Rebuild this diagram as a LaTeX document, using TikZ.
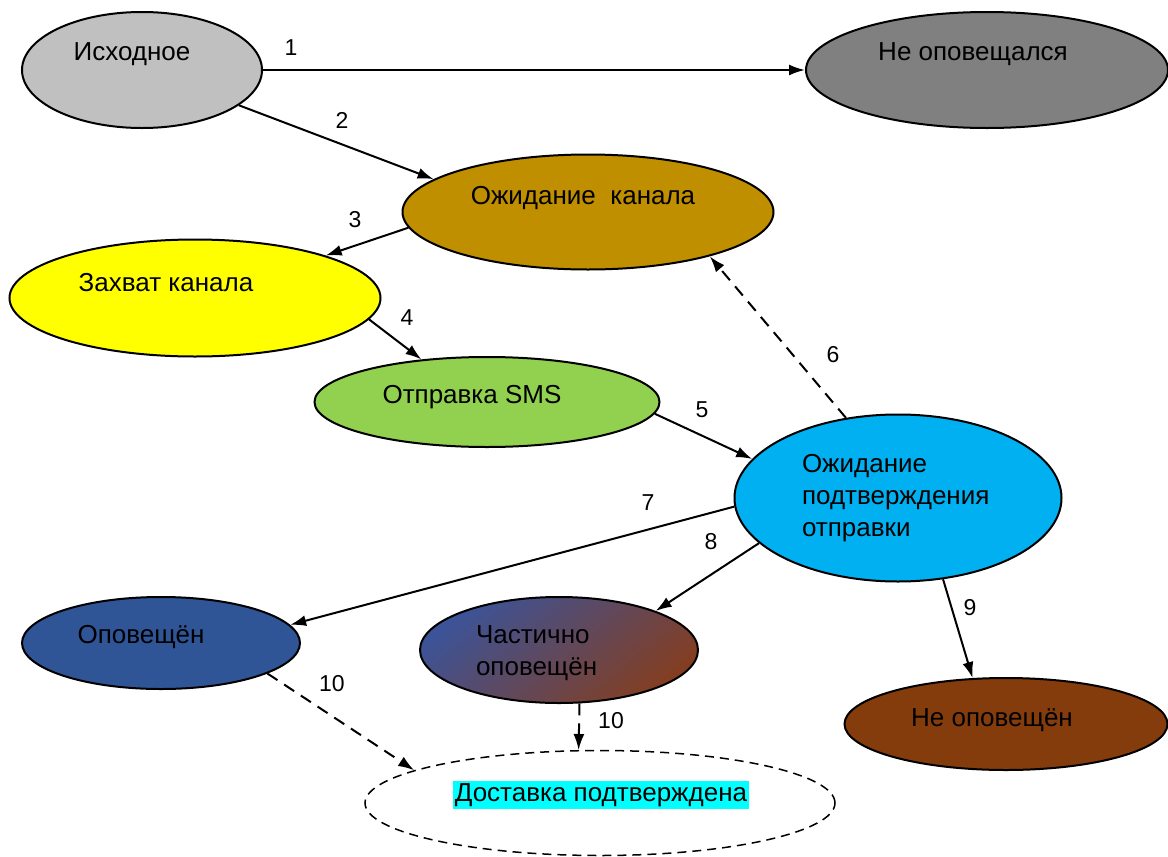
\documentclass[tikz,border=0pt]{standalone}
\usepackage{fontspec}
\setmainfont{Liberation Sans}
\usetikzlibrary{shapes.geometric, arrows.meta, positioning}
\definecolor{grayA}{HTML}{C0C0C0}
\definecolor{grayB}{HTML}{808080}
\definecolor{goldD}{HTML}{BF8F00}
\definecolor{yelA}{HTML}{FFFF00}
\definecolor{grnA}{HTML}{92D050}
\definecolor{bluA}{HTML}{00B0F0}
\definecolor{bluD}{HTML}{2F5597}
\definecolor{bluM}{HTML}{3C5398}
\definecolor{purM}{HTML}{654672}
\definecolor{brnM}{HTML}{833E22}
\definecolor{brnD}{HTML}{843C0C}
\definecolor{cyanA}{HTML}{00FFFF}
\tikzset{sost/.style={ellipse, draw, line width=2pt, inner sep=0pt},
         num/.style={font=\fontsize{23}{28}\selectfont},
         dsh/.style={dash pattern=on 12pt off 8pt}}

\begin{document}
\begin{tikzpicture}[x=1pt, y=-1pt, line width=2pt, >={Latex[length=16pt,width=11pt]},
    font=\fontsize{26}{32}\selectfont]
    \useasboundingbox (0,0) rectangle (1168,857);

    % states
    \node[sost, fill=grayA, minimum width=240pt, minimum height=116pt] (isx) at (142,70) {};
    \node[sost, fill=grayB, minimum width=362pt, minimum height=116pt] (neop) at (987,70) {};
    \node[sost, fill=goldD, minimum width=371pt, minimum height=115pt] (ojk) at (588,212) {};
    \node[sost, fill=yelA, minimum width=371pt, minimum height=117pt] (zahv) at (195,298) {};
    \node[sost, fill=grnA, minimum width=345pt, minimum height=90pt] (sms) at (487,402) {};
    \node[sost, fill=bluA, minimum width=327pt, minimum height=167pt] (ozp) at (898,498) {};
    \node[sost, fill=bluD, minimum width=278pt, minimum height=92pt] (opv) at (161,643) {};
    \node[sost, top color=bluM, middle color=purM, bottom color=brnM, shading angle=40,
          minimum width=278pt, minimum height=106pt] (chast) at (559,650) {};
    \node[sost, fill=brnD, minimum width=323pt, minimum height=92pt] (neopv) at (1006,724) {};
    \node[sost, line width=1.5pt, dash pattern=on 9pt off 6pt,
          minimum width=470pt, minimum height=105pt] (dost) at (600,803) {};

    % texts
    \node (t-isx) at (132,54) {Исходное};
    \node (t-neop) at (973,54) {Не оповещался};
    \node (t-ojk) at (583,198) {Ожидание\ \ канала};
    \node (t-zahv) at (166,283) {Захват канала};
    \node (t-sms) at (472,397) {Отправка SMS};
    \node[anchor=west, align=left, inner sep=0pt] (t-ozp) at (801,498)
        {Ожидание\\подтверждения\\отправки};
    \node (t-opv) at (141,637) {Оповещён};
    \node[anchor=west, align=left, inner sep=0pt] (t-chast) at (475,653)
        {Частично\\оповещён};
    \node (t-neopv) at (992,720) {Не оповещён};
    \node[fill=cyanA, inner sep=2pt] (t-dost) at (601,795) {Доставка подтверждена};

    % transitions
    \draw[->] (isx.east) -- (neop.west);
    \draw[->] (isx.-20) -- (ojk.168);
    \draw[->] (ojk.185) -- (zahv.18);
    \draw[->] (zahv.-7) -- (sms.147);
    \draw[->] (sms.-4) -- (ozp.165);
    \draw[->, dsh] (ozp.123) -- (ojk.-20);
    \draw[->] (ozp.183) -- (opv.8);
    \draw[->] (ozp.198) -- (chast.22);
    \draw[->] (ozp.-61) -- (neopv.126);
    \draw[->, dsh] (opv.-16) -- (dost.170);
    \draw[->, dsh] (chast.-69) -- (dost.112);

    % labels
    \node[num] (n1) at (291,48) {1};
    \node[num] (n2) at (342,120) {2};
    \node[num] (n3) at (355,220) {3};
    \node[num] (n4) at (407,318) {4};
    \node[num] (n5) at (702,410) {5};
    \node[num] (n6) at (833,355) {6};
    \node[num] (n7) at (648,503) {7};
    \node[num] (n8) at (711,542) {8};
    \node[num] (n9) at (970,608) {9};
    \node[num] (n10a) at (332,684) {10};
    \node[num] (n10b) at (611,721) {10};
\end{tikzpicture}
\end{document}
